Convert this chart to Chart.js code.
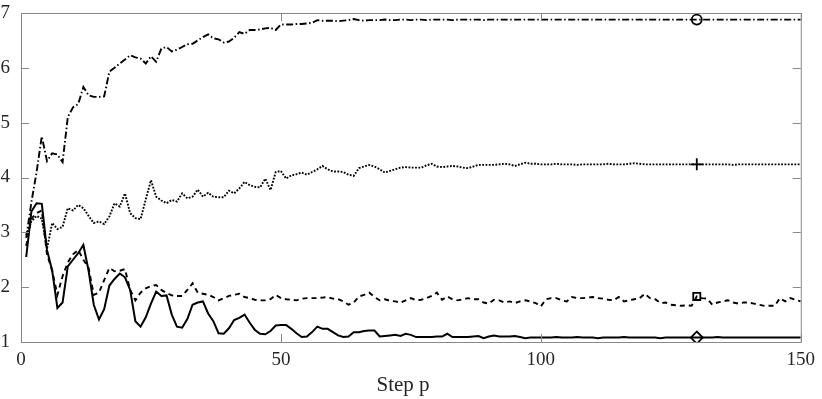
<!DOCTYPE html>
<html>
<head>
<meta charset="utf-8">
<script src="https://cdn.jsdelivr.net/npm/chart.js@4/dist/chart.umd.min.js"></script>
<style>
  html, body { margin: 0; padding: 0; background: #fff; }
  #wrap { width: 822px; height: 399px; position: relative; }
</style>
</head>
<body>
<div id="wrap"><canvas id="chart"></canvas></div>
<script>
// step index 1..150
var steps = [];
for (var i = 1; i <= 150; i++) steps.push(i);

var markerStep = 130;

// dash-dot series (circle marker)
var seriesCircle = [
  2.90, 3.55, 4.10, 4.75, 4.30, 4.44, 4.42, 4.28, 5.10, 5.28,
  5.34, 5.65, 5.50, 5.47, 5.47, 5.48, 5.93, 6.00, 6.08, 6.15,
  6.23, 6.19, 6.17, 6.08, 6.21, 6.11, 6.35, 6.38, 6.30, 6.33,
  6.38, 6.43, 6.44, 6.50, 6.56, 6.61, 6.54, 6.52, 6.46, 6.48,
  6.55, 6.65, 6.62, 6.69, 6.69, 6.70, 6.72, 6.73, 6.69, 6.79,
  6.79, 6.79, 6.80, 6.80, 6.81, 6.82, 6.87, 6.86, 6.86, 6.86,
  6.85, 6.86, 6.87, 6.89, 6.87, 6.86, 6.87, 6.87, 6.87, 6.88,
  6.87, 6.87, 6.88, 6.88, 6.87, 6.88, 6.88, 6.87, 6.88, 6.88,
  6.88, 6.88, 6.87, 6.88, 6.88, 6.88, 6.88, 6.88, 6.87, 6.88,
  6.88, 6.88, 6.88, 6.88, 6.88, 6.88, 6.88, 6.88, 6.88, 6.88,
  6.88, 6.88, 6.88, 6.88, 6.88, 6.88, 6.88, 6.88, 6.88, 6.88,
  6.88, 6.88, 6.88, 6.88, 6.88, 6.88, 6.88, 6.88, 6.88, 6.88,
  6.88, 6.88, 6.88, 6.88, 6.88, 6.88, 6.88, 6.88, 6.88, 6.88,
  6.88, 6.88, 6.88, 6.88, 6.88, 6.88, 6.88, 6.88, 6.88, 6.88,
  6.88, 6.88, 6.88, 6.88, 6.88, 6.88, 6.88, 6.88, 6.88, 6.88
];

// dotted series (plus marker)
var seriesPlus = [
  2.95, 3.20, 3.30, 3.25, 2.70, 3.17, 3.06, 3.10, 3.44, 3.40,
  3.50, 3.44, 3.30, 3.17, 3.20, 3.15, 3.29, 3.53, 3.47, 3.71,
  3.35, 3.26, 3.24, 3.60, 3.95, 3.65, 3.58, 3.53, 3.59, 3.56,
  3.71, 3.62, 3.65, 3.78, 3.65, 3.72, 3.65, 3.64, 3.64, 3.76,
  3.71, 3.80, 3.92, 3.86, 3.83, 3.82, 3.98, 3.77, 4.10, 4.12,
  3.98, 4.04, 4.06, 4.09, 4.05, 4.10, 4.15, 4.21, 4.15, 4.11,
  4.11, 4.10, 4.05, 4.03, 4.17, 4.20, 4.23, 4.20, 4.15, 4.09,
  4.12, 4.15, 4.18, 4.19, 4.18, 4.18, 4.18, 4.22, 4.25, 4.20,
  4.19, 4.20, 4.21, 4.20, 4.18, 4.17, 4.20, 4.23, 4.23, 4.23,
  4.23, 4.24, 4.25, 4.24, 4.21, 4.24, 4.27, 4.25, 4.25, 4.24,
  4.24, 4.24, 4.25, 4.24, 4.24, 4.24, 4.23, 4.24, 4.24, 4.24,
  4.24, 4.24, 4.25, 4.24, 4.24, 4.24, 4.25, 4.26, 4.25, 4.24,
  4.24, 4.24, 4.24, 4.24, 4.24, 4.24, 4.24, 4.24, 4.24, 4.24,
  4.24, 4.24, 4.24, 4.24, 4.24, 4.24, 4.23, 4.24, 4.24, 4.24,
  4.24, 4.24, 4.24, 4.24, 4.24, 4.24, 4.24, 4.24, 4.24, 4.24
];

// dashed series (square marker)
var seriesSquare = [
  2.75, 3.25, 3.35, 3.40, 2.60, 2.30, 1.86, 2.20, 2.45, 2.60,
  2.68, 2.50, 2.35, 1.86, 1.90, 2.13, 2.35, 2.29, 2.30, 2.33,
  1.95, 1.76, 1.90, 1.98, 2.02, 2.04, 1.95, 1.89, 1.85, 1.84,
  1.84, 1.95, 2.07, 1.90, 1.88, 1.86, 1.82, 1.76, 1.80, 1.84,
  1.86, 1.88, 1.82, 1.80, 1.77, 1.76, 1.76, 1.78, 1.86, 1.80,
  1.78, 1.77, 1.76, 1.79, 1.80, 1.80, 1.80, 1.81, 1.82, 1.79,
  1.78, 1.74, 1.68, 1.72, 1.83, 1.86, 1.90, 1.82, 1.76, 1.78,
  1.75, 1.74, 1.72, 1.76, 1.80, 1.76, 1.77, 1.80, 1.84, 1.90,
  1.77, 1.83, 1.78, 1.76, 1.78, 1.80, 1.78, 1.78, 1.72, 1.70,
  1.77, 1.76, 1.72, 1.74, 1.71, 1.74, 1.76, 1.74, 1.71, 1.65,
  1.78, 1.80, 1.80, 1.76, 1.74, 1.82, 1.80, 1.80, 1.81, 1.82,
  1.80, 1.79, 1.77, 1.76, 1.82, 1.74, 1.76, 1.78, 1.80, 1.88,
  1.80, 1.78, 1.71, 1.72, 1.68, 1.67, 1.66, 1.67, 1.66, 1.83,
  1.80, 1.79, 1.68, 1.72, 1.74, 1.76, 1.72, 1.70, 1.72, 1.72,
  1.70, 1.68, 1.66, 1.66, 1.66, 1.80, 1.74, 1.80, 1.77, 1.74
];

// solid series (diamond marker)
var seriesDiamond = [
  2.55, 3.38, 3.53, 3.52, 2.68, 2.30, 1.62, 1.72, 2.38, 2.50,
  2.62, 2.77, 2.30, 1.68, 1.41, 1.60, 2.03, 2.15, 2.25, 2.18,
  1.95, 1.38, 1.28, 1.45, 1.70, 1.92, 1.84, 1.85, 1.50, 1.28,
  1.26, 1.42, 1.68, 1.72, 1.74, 1.52, 1.38, 1.16, 1.15, 1.25,
  1.40, 1.44, 1.50, 1.35, 1.22, 1.15, 1.14, 1.20, 1.30, 1.31,
  1.31, 1.24, 1.16, 1.09, 1.10, 1.18, 1.28, 1.24, 1.24, 1.18,
  1.12, 1.09, 1.10, 1.18, 1.18, 1.20, 1.21, 1.21, 1.10, 1.11,
  1.12, 1.13, 1.11, 1.15, 1.13, 1.09, 1.09, 1.09, 1.09, 1.10,
  1.10, 1.15, 1.09, 1.09, 1.09, 1.09, 1.10, 1.11, 1.07, 1.10,
  1.12, 1.10, 1.10, 1.10, 1.11, 1.09, 1.07, 1.08, 1.08, 1.08,
  1.08, 1.08, 1.09, 1.08, 1.08, 1.08, 1.09, 1.08, 1.08, 1.08,
  1.07, 1.08, 1.08, 1.08, 1.08, 1.09, 1.08, 1.08, 1.08, 1.08,
  1.08, 1.08, 1.07, 1.08, 1.08, 1.08, 1.08, 1.08, 1.08, 1.08,
  1.08, 1.08, 1.08, 1.09, 1.08, 1.08, 1.08, 1.08, 1.08, 1.08,
  1.08, 1.08, 1.08, 1.08, 1.08, 1.08, 1.08, 1.08, 1.08, 1.08
];

var xTicks = [0, 50, 100, 150];
var yTicks = [1, 2, 3, 4, 5, 6, 7];

function toPoints(vals) {
    return vals.map(function(v, i) { return { x: steps[i], y: v }; });
}

function markerRadius(r) {
    return function(ctx) { return steps[ctx.dataIndex] === markerStep ? r : 0; };
}

function makeSet(vals, dash, width, style, r) {
    return {
        data: toPoints(vals),
        borderColor: '#000',
        borderWidth: width,
        borderDash: dash,
        pointStyle: style,
        pointRadius: markerRadius(r),
        pointHoverRadius: 0,
        pointBorderColor: '#000',
        pointBackgroundColor: 'rgba(0,0,0,0)',
        pointBorderWidth: 1.8,
        tension: 0,
        fill: false
    };
}

// box + inward ticks like the original figure
var boxPlugin = {
    id: 'boxTicks',
    afterDatasetsDraw: function(chart) {
        var c = chart.ctx, a = chart.chartArea;
        var xs = chart.scales.x, ys = chart.scales.y;
        var len = 8;
        c.save();
        c.strokeStyle = '#888';
        c.lineWidth = 1;
        c.strokeRect(a.left + 0.5, a.top + 0.5, a.right - a.left, a.bottom - a.top);
        c.beginPath();
        xTicks.forEach(function(t) {
            var px = Math.round(xs.getPixelForValue(t)) + 0.5;
            c.moveTo(px, a.bottom); c.lineTo(px, a.bottom - len);
            c.moveTo(px, a.top); c.lineTo(px, a.top + len);
        });
        yTicks.forEach(function(t) {
            var py = Math.round(ys.getPixelForValue(t)) + 0.5;
            c.moveTo(a.left, py); c.lineTo(a.left + len, py);
            c.moveTo(a.right, py); c.lineTo(a.right - len, py);
        });
        c.stroke();
        c.restore();
    }
};

new Chart(document.getElementById('chart'), {
    type: 'line',
    data: {
        datasets: [
            makeSet(seriesCircle, [7, 2.5, 1.5, 2.5], 1.9, 'circle', 5),
            makeSet(seriesPlus, [1.8, 1.5], 1.9, 'cross', 6),
            makeSet(seriesSquare, [5, 4], 1.9, 'rect', 5),
            makeSet(seriesDiamond, [], 2, 'rectRot', 6)
        ]
    },
    options: {
        responsive: true,
        maintainAspectRatio: false,
        animation: false,
        layout: { padding: { left: 0, right: 20, top: 13, bottom: 0 } },
        plugins: {
            legend: { display: false },
            tooltip: { enabled: false }
        },
        scales: {
            x: {
                type: 'linear',
                min: 0,
                max: 150,
                afterBuildTicks: function(s) { s.ticks = xTicks.map(function(v) { return { value: v }; }); },
                afterFit: function(s) { s.height = 57; },
                grid: { display: false, drawTicks: false },
                border: { display: false },
                ticks: {
                    color: '#262626',
                    padding: 7,
                    maxRotation: 0,
                    font: { family: 'Liberation Serif', size: 19 }
                },
                title: {
                    display: true,
                    text: 'Step p   ',
                    color: '#262626',
                    padding: { top: 2, bottom: 1 },
                    font: { family: 'Liberation Serif', size: 21 }
                }
            },
            y: {
                min: 1,
                max: 7,
                afterBuildTicks: function(s) { s.ticks = yTicks.map(function(v) { return { value: v }; }); },
                afterFit: function(s) {
                    s.width = 21;
                    s.paddingTop = 0;
                    s.paddingBottom = 0;
                },
                grid: { display: false, drawTicks: false },
                border: { display: false },
                ticks: {
                    color: '#262626',
                    padding: 11,
                    font: { family: 'Liberation Serif', size: 19 }
                }
            }
        }
    },
    plugins: [boxPlugin]
});
</script>
</body>
</html>
